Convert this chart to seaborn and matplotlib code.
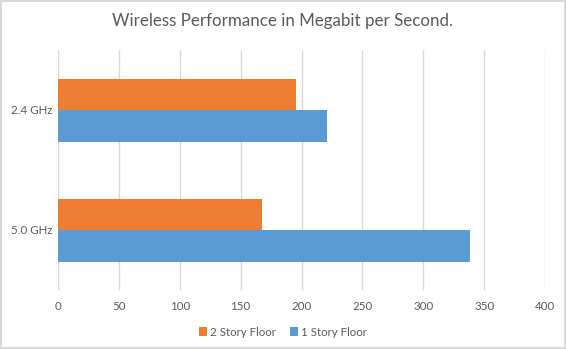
import matplotlib
matplotlib.use("Agg")
import matplotlib.pyplot as plt
import seaborn as sns
import pandas as pd

categories = ["2.4 GHz", "5.0 GHz"]
series_names = ["2 Story Floor", "1 Story Floor"]
two_story = [195.5, 167.5]
one_story = [221, 338]
x_ticks = [0, 50, 100, 150, 200, 250, 300, 350, 400]

df = pd.DataFrame({
    "band": categories * 2,
    "series": [series_names[0]] * 2 + [series_names[1]] * 2,
    "value": two_story + one_story,
})

sns.set_theme(style="white")
plt.rcParams['font.family'] = ['Lato', 'DejaVu Sans']

text_color = "#595959"
fig = plt.figure(figsize=(5.66, 3.49), dpi=100)
ax = fig.add_axes([58/566, 1 - 290/349, (545-58)/566, 240/349])

sns.barplot(data=df, y="band", x="value", hue="series", order=categories,
            hue_order=series_names, palette=["#ED7D31", "#5B9BD5"],
            orient="h", width=0.525, saturation=1, ax=ax, legend=True,
            linewidth=0, edgecolor="none")

ax.set_xlim(0, 400)
ax.set_xticks(x_ticks)
ax.set_xticklabels([str(t) for t in x_ticks])
ax.set_ylim(1.5, -0.5)
ax.grid(axis="x", color="#D9D9D9", linewidth=1)
ax.set_axisbelow(True)
for s in ax.spines.values():
    s.set_visible(False)
ax.tick_params(axis="both", length=0, labelsize=8.3, colors=text_color)
ax.tick_params(axis="x", pad=8)
ax.tick_params(axis="y", pad=4)
ax.set_xlabel("")
ax.set_ylabel("")

handles, labels = ax.get_legend_handles_labels()
ax.legend_.remove()
fig.legend(handles, labels, loc="center", bbox_to_anchor=(0.5, 1 - 332/349),
           ncol=2, frameon=False, fontsize=8.3, handlelength=0.7,
           handleheight=0.7, handletextpad=0.3, columnspacing=1.2,
           labelcolor=text_color)

fig.text(0.5, 1 - 21/349, "Wireless Performance in Megabit per Second.",
         ha="center", va="center", fontsize=12.2, color=text_color)

fig.patch.set_edgecolor("#D9D9D9")
fig.patch.set_linewidth(1.5)

fig.savefig("out.png", dpi=100)
